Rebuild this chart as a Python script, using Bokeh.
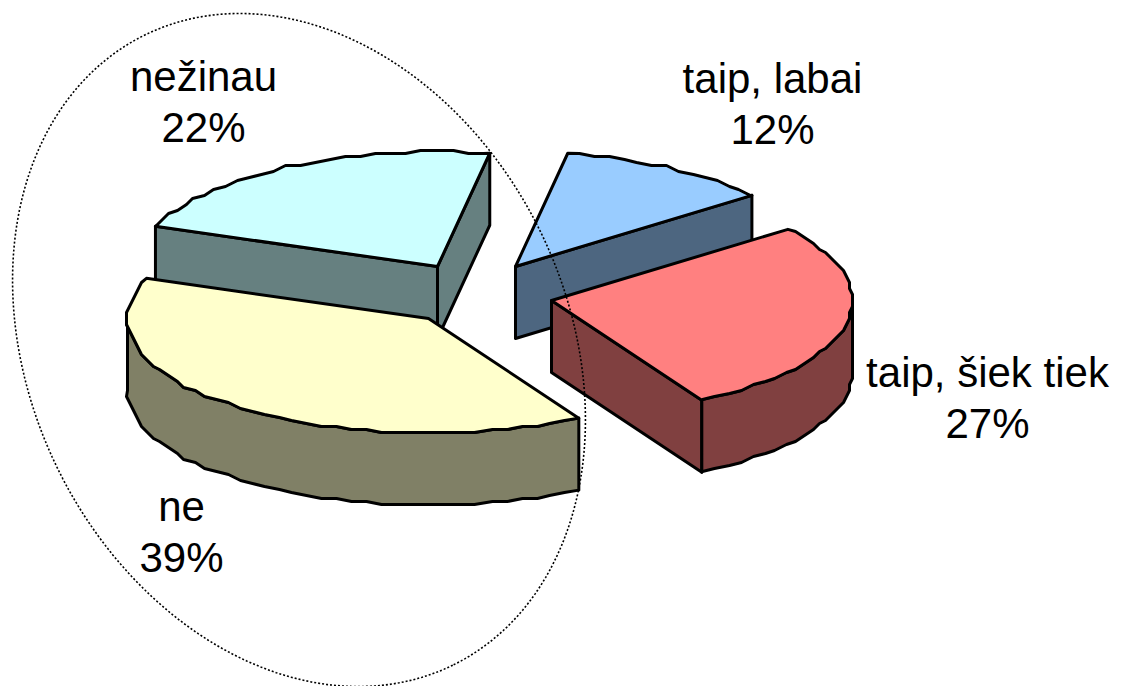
import math
from bokeh.plotting import figure
from bokeh.embed import file_html
from bokeh.resources import INLINE
from bokeh.core.properties import value

categories = ["taip, labai", "taip, šiek tiek", "ne", "nežinau"]
shares = [11.6, 27.3, 39.0, 22.1]
percent_labels = ["12%", "27%", "39%", "22%"]

top_colors = ["#99CCFF", "#FF8080", "#FFFFCC", "#CCFFFF"]
side_colors = ["#4D6680", "#804040", "#808066", "#668080"]
apex_x = [515, 551, 428, 437]
apex_y = [266, 300, 318, 266]
label_x = [772, 987, 181, 203]
label_y1 = [78, 372, 506, 76]
label_y2 = [129, 423, 557, 127]
draw_order = [3, 0, 1, 2]

RX, RY, DEPTH = 301, 115, 72
START = 80.0
STEP = 3.0
W, H = 1122, 686

p = figure(width=W, height=H, x_range=(0, W), y_range=(H, 0),
           output_backend="svg", toolbar_location=None, min_border=0,
           outline_line_color=None, background_fill_color="white")
p.axis.visible = False
p.grid.visible = False


def rim(cx, cy, a1, a2):
    """Points on the rim from a1 to a2, on a fixed angular grid, so that the
    wall and the top of one slice share the same stepped outline."""
    grid = 3.0
    k1, k2 = math.ceil(a1 / grid + 1e-6), math.floor(a2 / grid - 1e-6)
    ang = [a1] + [k * grid for k in range(k1, k2 + 1)] + [a2]
    xs, ys = [], []
    for i, d in enumerate(ang):
        a = math.radians(d)
        x, y = cx + RX * math.cos(a), cy - RY * math.sin(a)
        if 0 < i < len(ang) - 1:
            x, y = round(x / STEP) * STEP, round(y / STEP) * STEP
        xs.append(x)
        ys.append(y)
    return xs, ys


def face(xs, ys, color):
    p.patch(xs, ys, fill_color=color, line_color="black", line_width=3,
            line_join="round")


angles = []
cursor = START
for s in shares:
    angles.append((cursor - s * 3.6, cursor))
    cursor -= s * 3.6

for i in draw_order:
    lo, hi = angles[i]
    cx, cy = apex_x[i], apex_y[i]
    side = side_colors[i]
    for a, normal in ((lo, lo - 90), (hi, hi + 90)):
        if math.sin(math.radians(normal)) < 0:
            ex = cx + RX * math.cos(math.radians(a))
            ey = cy - RY * math.sin(math.radians(a))
            face([cx, ex, ex, cx], [cy, ey, ey + DEPTH, cy + DEPTH], side)
    for k in range(-1, 1):
        wl, wh = max(lo, -180 + 360 * k), min(hi, 360 * k)
        if wh > wl:
            xs, ys = rim(cx, cy, wl, wh)
            face(xs + xs[::-1], ys + [y + DEPTH for y in ys[::-1]], side)
    xs, ys = rim(cx, cy, lo, hi)
    face([cx] + xs, [cy] + ys, top_colors[i])

ring_x, ring_y = [], []
th = math.radians(64)
for d in range(0, 361):
    t = math.radians(d)
    u, v = 350.7 * math.cos(t), 268.9 * math.sin(t)
    ring_x.append(298.5 + u * math.cos(th) - v * math.sin(th))
    ring_y.append(349.5 + u * math.sin(th) + v * math.cos(th))
p.line(ring_x, ring_y, line_color="black", line_width=1.6, line_dash="2 2")

font = value("Liberation Sans")
for i in range(len(categories)):
    for ly, txt in ((label_y1[i], categories[i]), (label_y2[i], percent_labels[i])):
        p.text([label_x[i]], [ly], text=[txt], text_font=font,
               text_font_size="42px", text_align="center",
               text_baseline="alphabetic", text_color="black")

open("out.html", "w").write(file_html(p, INLINE))
